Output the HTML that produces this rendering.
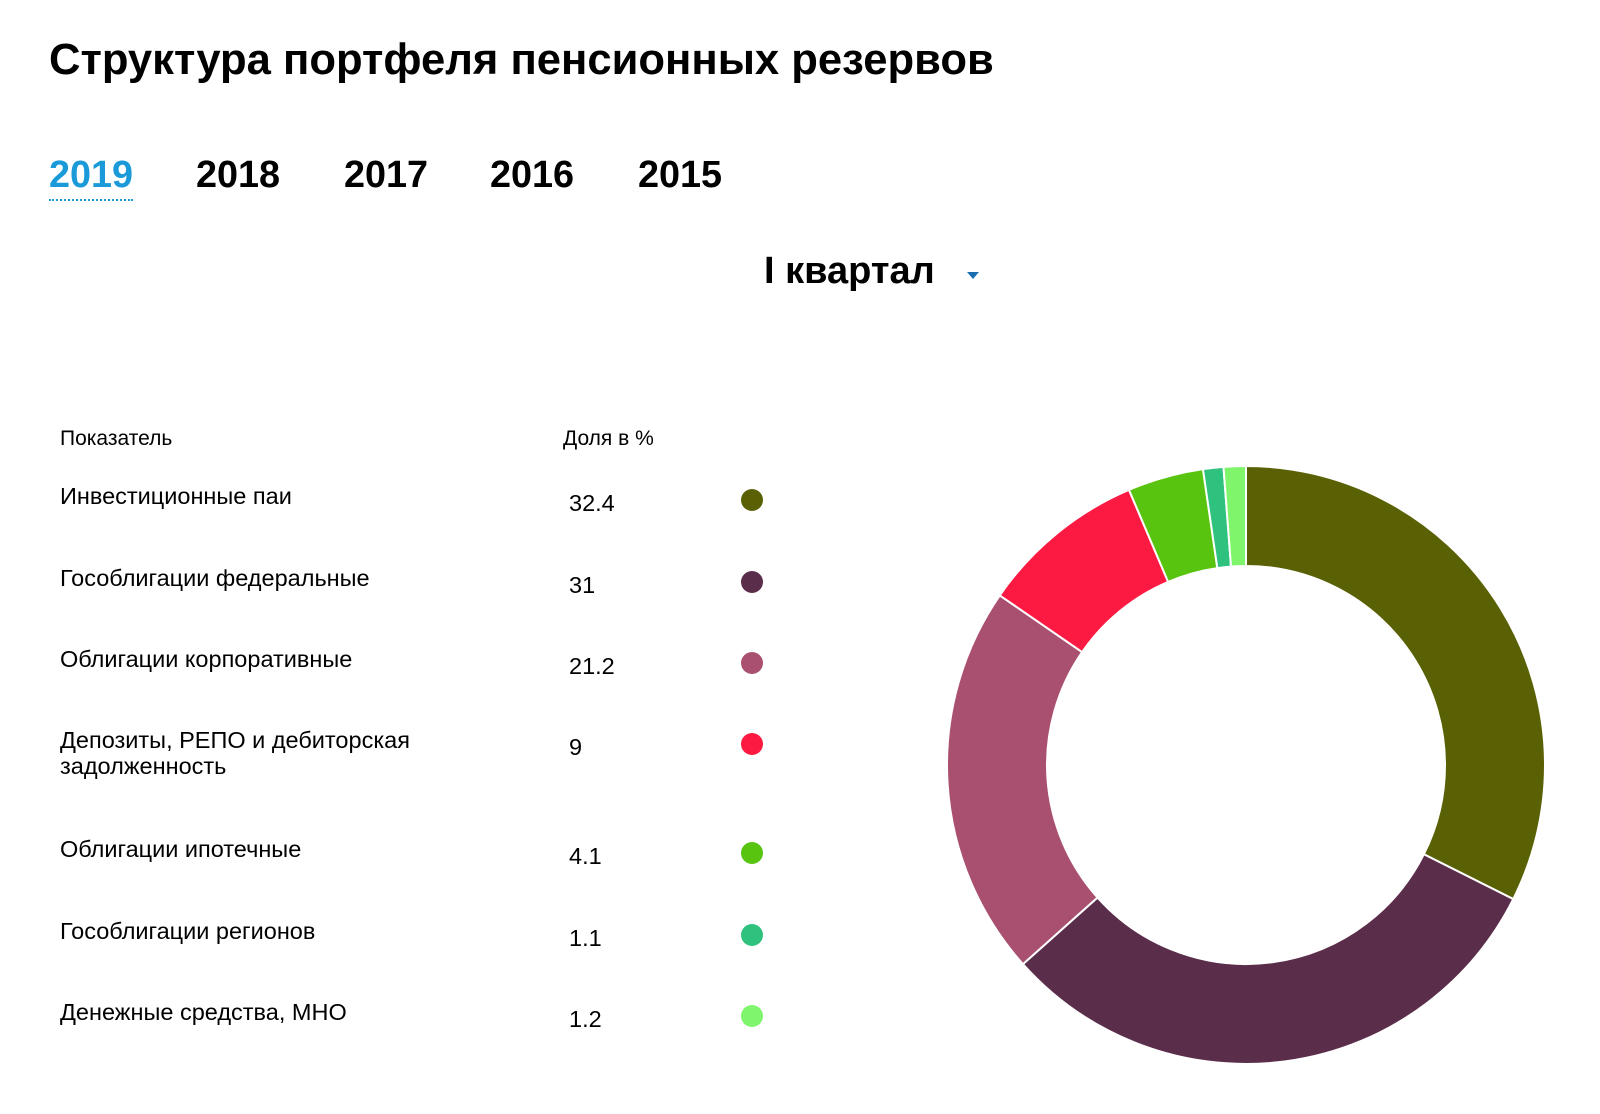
<!DOCTYPE html>
<html><head><meta charset="utf-8"><style>
body{margin:0;width:1600px;height:1114px;background:#fff;font-family:"Liberation Sans","DejaVu Sans",sans-serif;position:relative;overflow:hidden;color:#000}
.a{position:absolute;white-space:nowrap}
h1{position:absolute;left:49px;top:36px;margin:0;font-size:43.6px;font-weight:bold;white-space:nowrap}
.yr{position:absolute;top:154px;font-size:37.8px;font-weight:bold;cursor:pointer}
.row{position:absolute;left:60px;font-size:23.5px;line-height:26px}
.val{position:absolute;left:569px;font-size:23.5px}
.dot{position:absolute;left:741px;width:22px;height:22px;border-radius:50%}
</style></head><body>
<h1>Структура портфеля пенсионных резервов</h1>
<div class="yr" style="left:49px;color:#1a9ad9;border-bottom:2px dotted #1a9ad9;padding-bottom:2px">2019</div>
<div class="yr" style="left:196px">2018</div>
<div class="yr" style="left:344px">2017</div>
<div class="yr" style="left:490px">2016</div>
<div class="yr" style="left:638px">2015</div>
<div class="a" style="left:764px;top:250px;font-size:38px;font-weight:bold">I квартал</div>
<div class="a" style="left:967px;top:272px;width:0;height:0;border-left:6px solid transparent;border-right:6px solid transparent;border-top:7px solid #1a6fb0"></div>
<div class="a" style="left:60px;top:427px;font-size:21px">Показатель</div>
<div class="a" style="left:563px;top:427px;font-size:21px">Доля в %</div>
<div id="table"></div>
<svg id="donut" width="1600" height="1114" style="position:absolute;left:0;top:0"></svg>
<script>
const categories=["Инвестиционные паи","Гособлигации федеральные","Облигации корпоративные","Депозиты, РЕПО и дебиторская задолженность","Облигации ипотечные","Гособлигации регионов","Денежные средства, МНО"];
const values=[32.4,31,21.2,9,4.1,1.1,1.2];
const labels=["32.4","31","21.2","9","4.1","1.1","1.2"];
const colors=["#5a6004","#5a2d4a","#a94f70","#fd1a42","#58c40f","#2fc27f","#7ff56b"];
const rowTops=[483,565,646,727,836,918,999];
const tbl=document.getElementById('table');
categories.forEach((c,i)=>{
  const t=rowTops[i];
  const r=document.createElement('div');r.className='row';r.style.top=t+'px';
  r.innerHTML=c.replace('дебиторская ','дебиторская<br>');
  
  
  tbl.appendChild(r);
  const v=document.createElement('div');v.className='val';v.style.top=(t+7)+'px';v.textContent=labels[i];
  
  
  tbl.appendChild(v);
  const d=document.createElement('div');d.className='dot';d.style.top=(t+6)+'px';d.style.background=colors[i];
  
  
  tbl.appendChild(d);
});
const svg=document.getElementById('donut');
const cx=1246,cy=765,R=299,r0=199;
const total=values.reduce((a,b)=>a+b,0);
let acc=0;
function pt(a,rad){return [cx+rad*Math.sin(a),cy-rad*Math.cos(a)];}
values.forEach((v,i)=>{
  const a0=acc/total*2*Math.PI;acc+=v;const a1=acc/total*2*Math.PI;
  const lg=(a1-a0)>Math.PI?1:0;
  const p1=pt(a0,R),p2=pt(a1,R),p3=pt(a1,r0),p4=pt(a0,r0);
  const p=document.createElementNS('http://www.w3.org/2000/svg','path');
  p.setAttribute('d',`M${p1}A${R},${R} 0 ${lg} 1 ${p2}L${p3}A${r0},${r0} 0 ${lg} 0 ${p4}Z`);
  p.setAttribute('fill',colors[i]);p.setAttribute('stroke','#fff');p.setAttribute('stroke-width','2');
  
  
  svg.appendChild(p);
});
</script>
</body></html>
